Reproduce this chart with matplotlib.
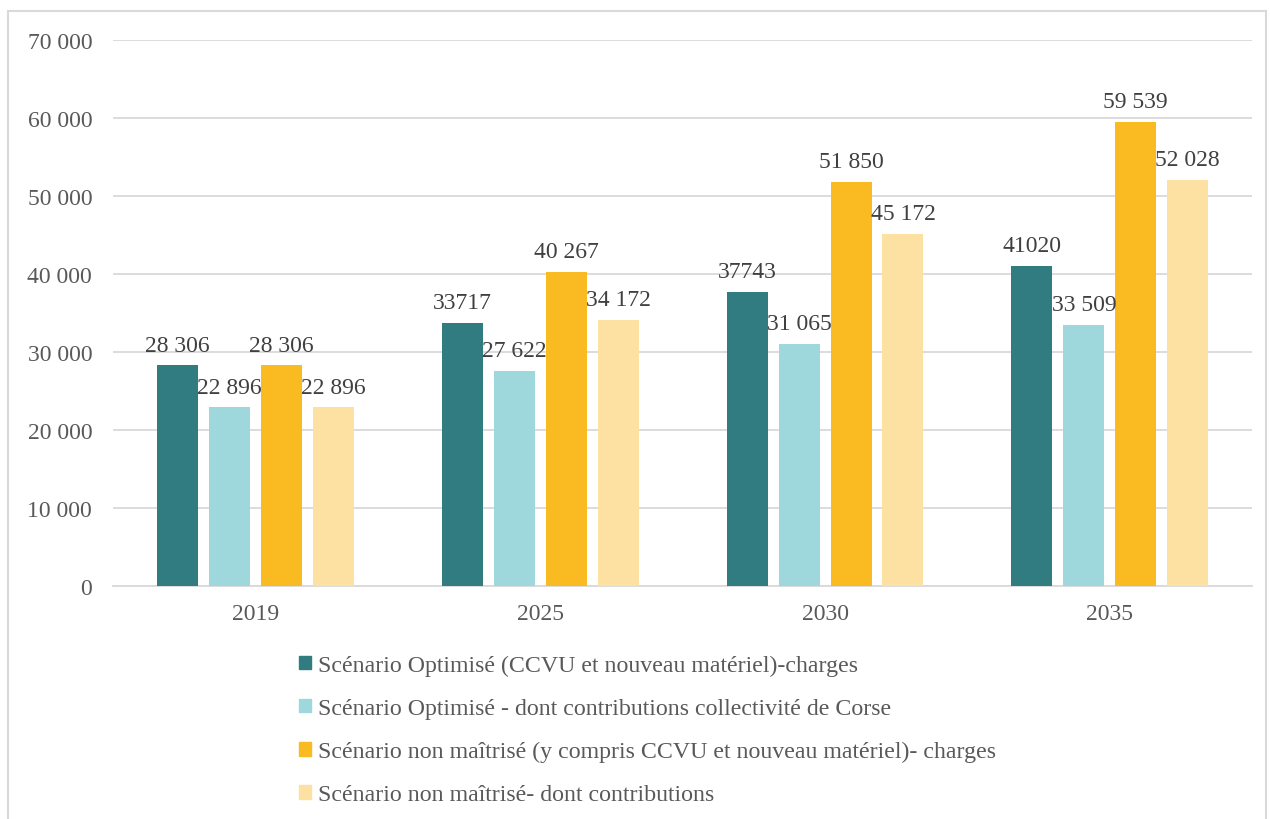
import matplotlib
matplotlib.use('Agg')
import matplotlib.pyplot as plt
from matplotlib.patches import Rectangle
import numpy as np

plt.rcParams['font.family'] = ['Liberation Serif', 'DejaVu Serif']

# Données (milliers d'euros)
years = ["2019", "2025", "2030", "2035"]
series_names = [
    "Scénario Optimisé (CCVU et nouveau matériel)-charges",
    "Scénario Optimisé - dont contributions collectivité de Corse",
    "Scénario non maîtrisé (y compris CCVU et nouveau matériel)- charges",
    "Scénario non maîtrisé- dont contributions",
]
opt_charges = [28306, 33717, 37743, 41020]
opt_contrib = [22896, 27622, 31065, 33509]
nm_charges = [28306, 40267, 51850, 59539]
nm_contrib = [22896, 34172, 45172, 52028]
opt_charges_labels = ["28 306", "33717", "37743", "41020"]
opt_contrib_labels = ["22 896", "27 622", "31 065", "33 509"]
nm_charges_labels = ["28 306", "40 267", "51 850", "59 539"]
nm_contrib_labels = ["22 896", "34 172", "45 172", "52 028"]

colors = ["#307C80", "#9FD8DC", "#F9BA22", "#FCE1A3"]
text_color = "#595959"
grid_color = "#D9D9D9"

series = [opt_charges, opt_contrib, nm_charges, nm_contrib]
labels = [opt_charges_labels, opt_contrib_labels, nm_charges_labels, nm_contrib_labels]

fig = plt.figure(figsize=(12.7, 8.2), dpi=100)
ax = fig.add_axes([0.089, 0.284, 0.897, 0.666])

x = np.arange(len(years))
step = 0.1825
width = 0.144
offsets = [-1.5 * step, -0.5 * step, 0.5 * step, 1.5 * step]

for vals, labs, col, off, name in zip(series, labels, colors, offsets, series_names):
    bars = ax.bar(x + off, vals, width=width, color=col, label=name, zorder=3)
    for b, v, t in zip(bars, vals, labs):
        ax.annotate(t, (b.get_x() + b.get_width() / 2, v), xytext=(0, 7),
                    textcoords='offset points', ha='center', va='bottom',
                    fontsize=17, color="#404040", zorder=4)

ax.set_xlim(-0.5, len(years) - 0.5)
ax.set_ylim(0, 70000)
ax.set_yticks(range(0, 70001, 10000))
ax.set_yticklabels(["0"] + [f"{v // 1000} 000" for v in range(10000, 70001, 10000)])
ax.set_xticks(x)
ax.set_xticklabels(years)
ax.tick_params(axis='y', length=0, pad=15, labelsize=17, labelcolor=text_color)
ax.tick_params(axis='x', length=0, pad=12, labelsize=17, labelcolor=text_color)
ax.grid(axis='y', color=grid_color, linewidth=1.3, zorder=0)
for side in ['top', 'right', 'left']:
    ax.spines[side].set_visible(False)
ax.spines['bottom'].set_color(grid_color)
ax.spines['bottom'].set_linewidth(1.3)

handles = [Rectangle((0, 0), 1, 1, color=c) for c in colors]
fig.legend(handles, series_names, loc='upper left', bbox_to_anchor=(287 / 1270, 1 - 644 / 820),
           frameon=False, fontsize=17.2, labelcolor=text_color, handlelength=0.5,
           handleheight=0.5, handletextpad=0.3, labelspacing=0.92, borderpad=0)

# cadre du graphique
fig.patches.append(Rectangle((8 / 1270, -0.05), 1258 / 1270, 1.05 - 12 / 820,
                             transform=fig.transFigure, fill=False,
                             edgecolor=grid_color, linewidth=1.5))

fig.savefig("out.png", dpi=100)
